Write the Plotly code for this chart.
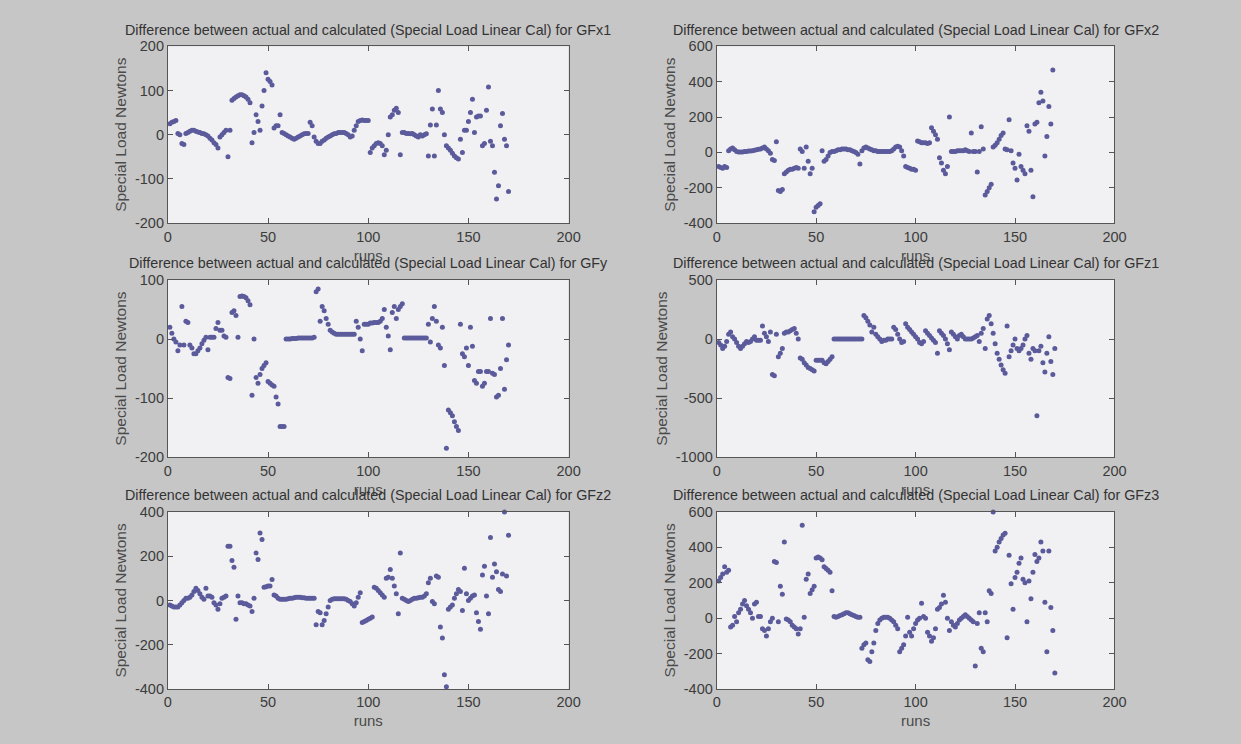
import plotly.graph_objects as go

# ---- data: calibration residuals per run, one list per gauge channel ----
channels = ["GFx1", "GFx2", "GFy", "GFz1", "GFz2", "GFz3"]

gfx1 = [25, 28, 30, 32, 3, 0, -20, -22,
        3, 5, 8, 10, 10, 8, 6, 5, 3, 2, 0, -3,
        -8, -12, -18, -22, -30, -5, 0, 5, 10, -50, 10,
        78, 82, 85, 88, 90, 90, 88, 85, 80, 72,
        -18, 5, 45, 30, 10, 65, 100, 140, 125, 120, 112,
        15, 20, 20, 45,
        5, 3, 0, -3, -5, -8, -10, -8, -5, -3, 0, 2, 3, 3,
        28, 20, -5, -15, -20, -20, -15, -12, -8, -5,
        -3, 0, 2, 3, 5, 5, 5, 5, 3, 0, -5, -3, 10, 20, 30,
        32, 33, 32, 32, 32,
        -40, -30, -25, -20, -18, -20, -25, -45, -35, 0,
        40, 45, 55, 60, 50, -45,
        5, 5, 3, 3, 2, 3, 0, -3, -5, 0,
        -3, 0, 2, -48, 22, 58, -48, 22, 100, 58, 50, 0, -25,
        -30, -35, -42, -48, -52, -55,
        -10, -40, 10, 10, 30, 50, 80, 5, 40, 42,
        42, -25, -20, 55, 108, -15, -25, -85, -145, -115,
        20, 48, -10, -25, -128]

gfx2 = [-80, -85, -90, -80, -85, 10, 20, 25, 15,
        5, 3, 2, 3, 5, 5, 8, 8, 10, 12, 15, 18, 20, 25, 30,
        20, 10, -5, -40, -45, 60, -215, -220, -210,
        -120, -110, -100, -95, -95, -90, -85, -90, 20, 5, -90, 30, -50, -120, -90,
        -335, -310, -300, -290, 10, -50, -40, -20,
        0, 5, 5, 10, 15, 15, 20, 20, 20, 15, 15, 10, 5, 0, -10, -65,
        10, 25, 30, 25, 20, 15, 10, 10,
        5, 5, 5, 5, 5, 5, 5, 10, 20, 30, 35, 30, 10, -20,
        -80, -85, -90, -95, -95, -100,
        65, 60, 55, 55, 55, 50, 55,
        140, 120, 100, 75, -30, -60, -100, -120, -80, 200,
        5, 5, 5, 10, 10, 10, 10, 15, 10, 5, 110, 5, 5, -110, 5, 145, 20,
        -240, -220, -200, -180,
        30, 40, 55, 75, 95, 110, 20, 15, 185, 10, -60, -90, -155, -10,
        -80, -100, -120, 150, 120, -100, -250, 160, 170, 280, 340, 290,
        -20, 90, 260, 160, 465]

gfy = [20, 10, 0, -5, -20, -10, 55, -10, 30, 28,
       -10, -15, -25, -25, -20, -15, -8, -2, 3, -18,
       3, 3, 3, 18, 28, 15, 15, 5, 3, -65, -67,
       45, 48, 40, 3, 72, 73, 72, 70, 65, 58,
       -95, 0, -65, -75, -60, -50, -45, -40, -72, -75, -78, -80, -98, -110,
       -148, -148, -148,
       0, 0, 0, 1, 1, 1, 2, 2, 2, 2, 2, 2, 2, 2, 3,
       80, 85, 30, 55, 48, 35, 25, 15, 12,
       10, 8, 8, 8, 8, 8, 8, 8, 8, 8, 8,
       30, 20, 0, -20,
       25, 25, 25, 27, 27, 28, 28, 28, 30, 35, 50,
       20, 5, -18, 45, 55, 35, 50, 55, 60,
       2, 2, 2, 2, 2, 2, 2, 2, 2, 2, 2, 2, 25,
       -5, 35, 55, 30, -10, -15, 20, -45, -185,
       -120, -125, -130, -140, -148, -155, 25,
       -25, -30, -15, -45, 20,
       -12, -70, -75, -55, -55, -80, -75, -55, -55, 35,
       -58, -60, -98, -95, -50, 35, -85, -35, -10]

gfz1 = [-30, -50, -80, -60, -20, 40, 60, 20, 0,
        -30, -60, -80, -60, -40, -20,
        -30, -20, 0, 20, -10, -10, -10,
        110, 50, 20, -20, 60, -300, -310,
        40, -150, -120, -80,
        50, 60, 60, 70, 80, 90, 50, 0,
        -160, -170, -200, -220, -240, -250, -260, -270,
        -180, -180, -180, -180, -200, -210, -190, -170, -150,
        0, 0, 0, 0, 0, 0, 0, 0, 0, 0, 0, 0, 0, 0, 0,
        200, 180, 150, 120,
        60, 100, 40, 20, 0, -20,
        -10, -10, 0, 0, 0,
        100, 80, 40, 0, -30, -20,
        130, 100, 80, 60, 40, 20,
        0, -30, -40, -20,
        70, 50, 30, 10, -10, -30, -120,
        70, 50, 30, 0, -40, -90,
        60, 40, 20, 0, 30, 40, 20,
        0, 0, 0, 0, 10, 20, 30, -20, 50, 90, -80,
        170, 200, 130, 50, -40,
        -120, -170, -220, -260, -290, 110,
        -150, -100, -50, 0,
        -80, -100, -80, -50, 0, 30, -120, -170, -80, -100, -650,
        -100, -60, -200, -280, -120, 20, -190, -300, -80]

gfz2 = [-20, -25, -30, -30, -30, -20, -10, 0, 10, 10,
        15, 25, 40, 55, 45, 30, 15, 5, 55, 20, 20, 15,
        -10, -20, -40, -15, 10, 15, 20, 245, 245,
        180, 150, -85, 20,
        -10, -10, -15, -15, -20, -25, -50, 10,
        215, 185, 305, 275,
        60, 62, 65, 65, 95,
        25, 20, 10, 5, 5,
        5, 5, 8, 10, 10, 12, 15, 15, 15, 12, 12, 10, 10, 10, 10, 10,
        -110, -50, -55, -110, -90, -60, -30,
        0, 5, 8, 8, 8, 8, 8, 8, 5, 0, -5, -15, -25, -10, 15, 35,
        -100, -95, -90, -85, -80, -75,
        60, 55, 45, 35, 25, 15,
        100, 105, 140, 100, 65, 30, -60, 215,
        10, 5, 0, -5, 0, 5, 10, 10, 12, 15, 15, 20, 30,
        80, 100, -5, -15, 110, 105,
        -120, -170, -335, -390,
        -40, -30, -20, 10, 30, 50, 40,
        -45, 145, 30, 0, 10, 20, 25, -55,
        -95, -130, 115, 155, 20, -60, 285, 105,
        165, 130, 50, 40, 120, 400, 110, 295]

gfz3 = [210, 230, 250, 290, 260, 270,
        -50, -40, 10, -20, 30, 50, 80, 100, 70, 50, 30, 0,
        80, 90, 10, 10,
        -60, -70, -100, -60, -20, 0, 320, 315,
        -20, 180, 135, 430,
        -5, -10, -20, -40, -50, -60, -90, -60, 525, 5,
        220, 250, 140, 160, 180, 340, 345, 340, 330,
        290, 280, 270, 260, 155,
        10, 5, 10, 15, 20, 25, 30, 30, 25, 20, 15, 10, 5, 5,
        -170, -150, -140, -235, -245,
        -190, -140, -70, -30,
        -10, 0, 5, 5, 5, 0, -10, -20, -40, -60,
        -190, -170, -150, -100,
        5, -80, -100, -60,
        -30, -10, 0, 85, 10, 0,
        -80, -100, -130, -110,
        -60, 50, 60, 80, 130, 90, 0, -70,
        -20, -40, -50, -30, -10, 0, 10, 20, 10, 0, -10, -20,
        -270, -30, 30, -170, -190, 30, -20, 155, 140, 600,
        380, 400, 430, 450, 470, 480, -110, 355,
        195, 50, 230, 260, 310, 340, 220,
        200, -20, 210, 110, 260, 360, 320, 340,
        430, 380, 90, -190, 380, 60, -70, -310]

series = [gfx1, gfx2, gfy, gfz1, gfz2, gfz3]

# axis limits and tick labels
x_range = [0, 200]
x_tickvals = [0, 50, 100, 150, 200]
x_ticktext = ["0", "50", "100", "150", "200"]

y_ranges = [[-200, 200], [-400, 600], [-200, 100],
            [-1000, 500], [-400, 400], [-400, 600]]
y_tickvals = [[-200, -100, 0, 100, 200],
              [-400, -200, 0, 200, 400, 600],
              [-200, -100, 0, 100],
              [-1000, -500, 0, 500],
              [-400, -200, 0, 200, 400],
              [-400, -200, 0, 200, 400, 600]]
y_ticktext = [[str(v) for v in tv] for tv in y_tickvals]

x_title = "runs"
y_title = "Special Load Newtons"
title_fmt = "Difference between actual and calculated (Special Load Linear Cal) for {}"

# ---- page geometry (pixels) ----
W, H = 1241, 744
col_px = [(166, 572), (722, 1125)]
row_px = [(39, 220), (278, 459), (515, 696)]

FONT = "Arial, Liberation Sans, Helvetica, sans-serif"
PAGE_BG = "#c6c6c6"
AXES_BG = "#f1f1f4"
DOT = "#5b5b9c"
AXIS_LINE = "#555555"
TEXT = "#3c3c3c"
LABEL = "#4a4a4a"

fig = go.Figure()
layout = dict(
    width=W, height=H,
    margin=dict(l=0, r=0, t=0, b=0),
    paper_bgcolor=PAGE_BG,
    plot_bgcolor=AXES_BG,
    showlegend=False,
    font=dict(family=FONT, color=TEXT, size=14),
    annotations=[],
)

for i, (name, values) in enumerate(zip(channels, series)):
    r, c = divmod(i, 2)
    x0, x1 = col_px[c]
    top, bot = row_px[r]
    xd = [x0 / W, x1 / W]
    yd = [1 - bot / H, 1 - top / H]
    k = "" if i == 0 else str(i + 1)

    fig.add_trace(go.Scatter(
        x=list(range(1, len(values) + 1)), y=values,
        mode="markers", xaxis="x" + k, yaxis="y" + k,
        marker=dict(color=DOT, size=5, line=dict(width=0)),
        cliponaxis=False, hoverinfo="x+y",
    ))

    common = dict(
        showgrid=False, zeroline=False, showline=True, linecolor=AXIS_LINE,
        linewidth=1, mirror="ticks", ticks="inside", ticklen=5,
        tickcolor=AXIS_LINE, tickfont=dict(size=14.5, color=TEXT, family=FONT),
        fixedrange=True,
    )
    layout["xaxis" + k] = dict(
        common, domain=xd, range=x_range, anchor="y" + k,
        tickmode="array", tickvals=x_tickvals, ticktext=x_ticktext,
        title=dict(text=x_title, font=dict(size=15, color=LABEL), standoff=6),
    )
    layout["yaxis" + k] = dict(
        common, domain=yd, range=y_ranges[i], anchor="x" + k,
        tickmode="array", tickvals=y_tickvals[i], ticktext=y_ticktext[i],
        title=dict(text=y_title, font=dict(size=15.5, color=LABEL), standoff=4),
    )
    layout["annotations"].append(dict(
        text=title_fmt.format(name), xref="paper", yref="paper",
        x=(xd[0] + xd[1]) / 2, y=1 - (top - 17) / H,
        xanchor="center", yanchor="middle", showarrow=False,
        font=dict(size=14.3, color="#333333", family=FONT),
    ))

fig.update_layout(**layout)
fig.write_html("out.html")
